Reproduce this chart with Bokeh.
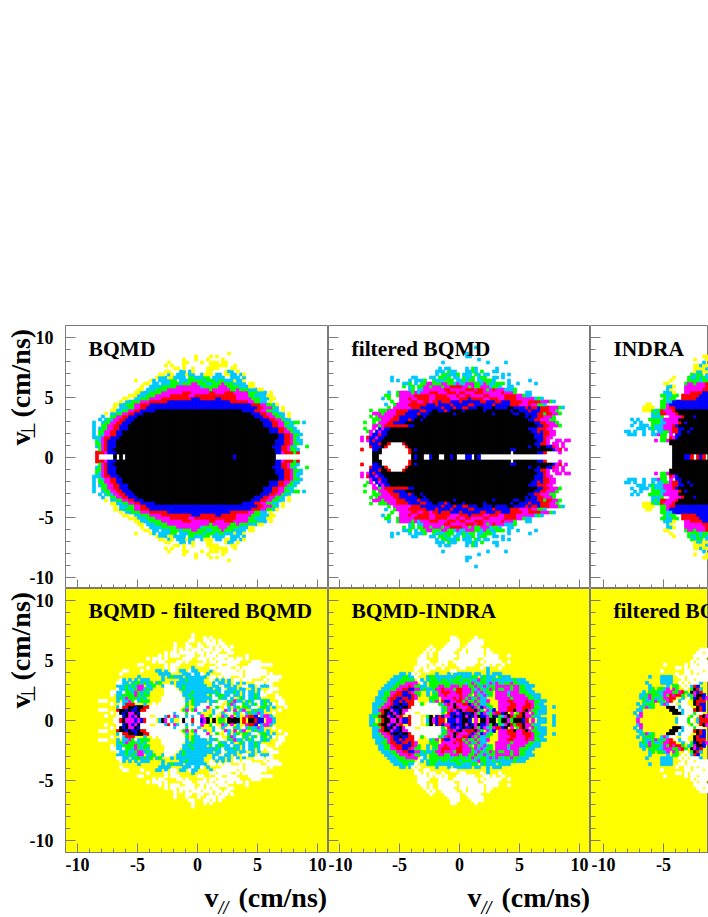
import re
from bokeh.plotting import figure
from bokeh.layouts import column, row
from bokeh.models import Label, ColumnDataSource, FixedTicker, Range1d
from bokeh.transform import factor_cmap
from bokeh.embed import file_html
from bokeh.resources import INLINE

LEVELS = ["y", "w", "c", "g", "m", "r", "b", "k"]
COLOURS = ["#ffff00", "#ffffff", "#00c8ff", "#00ff00", "#ff00ff", "#ff0000", "#0000ff", "#000000"]
MAJOR = [-10, -5, 0, 5, 10]
MINOR = [v for v in range(-10, 11) if v % 5]
TICK_LABELS = {-10: "-10", -5: "-5", 0: "0", 5: "5", 10: "10"}

# Each list: rows of 0.25 cm/ns bins going up from v_perp = 0 (the maps are mirrored about 0).
# Row text: "@n" = bin number along v_par (0 is -11 cm/ns), then level letters with repeat counts,
# "." = empty bin.
BQMD = [
"@10 r @16 k . k . 36k b 13k",
"@10 3r m 3b 53k 2b m 3r g r",
"@11 g m r 2b 54k 2b 2r m 2g c",
"@10 c g m r 3b 52k 3b 2r m g c @80 g",
"@10 2g m r 3b 53k 3b 2r m 2g c",
"@10 g c m r 3b 53k 3b 2r m g 2c",
"@9 c @10 2c m 2r 3b 53k 2b 2r m g c",
"@9 c @11 g c 2m 2r 2b 52k 2b 2r m 2g c",
"@9 c @11 2g 2m 2r 2b 49k 3b 2r 2m g 2c",
"@9 c @11 c 2g 2m 2r 3b 47k 3b 2r m 2g c",
"@9 c @12 2g 2m 2r 3b 45k 3b 2r 2m g 2c",
"@9 c @12 c 2g 2m 2r 3b 44k 3b 2r 2m 2g c g @77 g @79 c",
"@11 c . c @14 g c 2m 2r 3b 42k 3b 2r 2m g 2c",
"@12 c @15 2g 2m 2r 3b 39k 3b 2r 2m 2g c . y",
"@13 y @15 2c 2g 2m 2r 3b 36k 3b 2r 2m 2g 2c . y",
"@15 2y @17 2c 2g 2m 2r 5b 29k 4b 2r 2m 2g 2c . y",
"@16 y . 3c 2g 2m 2r 37b 2r 3m g c . y",
"@16 2y 2c 3g 2m 3r 34b 3r 2m 2g c y",
"@18 y . 2c 3g 3m 6r 21b 6r 2m 2g 2c . y",
"@19 2y @23 2c 3g 4m 10r 3b 5r 2b 5r 5m 3g 3c 2y",
"@21 3y 3c 3g 5m 6r 2m 14r 4m 2g 4c 2y",
"@23 2y 3c 4g 7m 3r 6m 2r 3m 3r 5m 3g 3c . y",
"@24 2y . 3c 4g 14m g 6m 2g m 3g 3c 2y",
"@25 y 2. 4c 5g 8m c 5g 3m 4g 3c 2y",
"@26 2y . 2c . 3c 3g c 3g 2m 3g 2c 3g m 3g 4c . 2y",
"@23 y @28 y c . 4c 2g . 3c 5g c 3g c 2g 3c y 2c y",
"@30 y 3c 2y 4c . 2g 3c 2g . 4c 2. 3c . c",
"@31 2y . c y . 3c y 2c 2. c 3y . 2c . 2y 2c . c y",
"@33 2y @38 2c . c y @47 2y 4. y 2c @57 y",
"@36 2y . y @42 y @47 4y 4. 2y",
"@33 y . y @39 y @48 6y @56 y",
"@34 y @39 2y @45 y @48 3y @52 2y",
"@39 y @43 y @47 y @52 y",
"@43 y @48 y @50 y",
"@54 y",
]
FILTERED = [
"@15 2k @28 k b 2k 2. b 2k 2. 2k b k 3. 2b . k b",
"@15 3k @27 r 33k . 8k 2b r @77 m",
"@11 r @15 2b k @27 r k b 31k 2b 12k 2b r @76 m 2. m",
"@14 r 3b k r @26 r 40k b 2k b 2k 2b r m @76 m . m",
"@14 3b r 2k r @25 r 43k 2b 2r m @75 2m . m",
"@11 m . m b r 2b 52k 2b r m @76 2m . 2m",
"@11 m @13 r 2b m 2b 50k 3b r 2m",
"@14 m 2b r 2b 49k 3b 2r 2m",
"@13 g m . b m 2b 48k 2b r b 2r 2m",
"@12 g @15 m . b m 2b 46k 3b 3r 2m",
"@15 2m g m 8r 2b 41k 2b 2r 3m g",
"@12 g @15 g . 3m 2r 4b 43k 2b 2r 3m g",
"@15 3g 3m 3r 3b r b 2k b 35k 2b 2r 3m 2g",
"@14 g . g 5m 2r 6b 2k b 33k b k 2b 2r 3m g",
"@15 3m g 4m 3r 4b r 3b 8k b 12k b 6k 2b 2k 4b 2r g 2r 2m g",
"@14 g @17 3g 3m 4r 4b 2r 2b 2k 2b r b 4k b 6k b 8k b 2k 3b r 3b 3r 2m g",
"@20 g . 6m 3r 7b r 3b r 2b 2r 3b 2k 3b k 4b 2k 4b r b 2r b 3r 3m g c",
"@19 c @22 g 4m 6r 3b r 4b r 5b 2r 6b r 5b 3r 3m r 2m 2g c",
"@21 g @24 4m 2r 2m 2r m 2r b 3r 3b r 6b 2r 3b 2r 3b 4r 2m 4r 3m g c",
"@18 c . g @24 3m r 2m 4r 2m 5r 3m 3r b 4r 2m 3r 2m 4r 6m c g c",
"@19 2g 2. g @24 5m 5r 2m 4r 3m r 2m 2r 4m 2r 5m 4r 2m g 2c",
"@20 c @23 g 4m g m c 3m 3r 3m 3r m 2r 3m 3r 6m r 3m g @66 2c",
"@27 c g . 2c 7m 2r 5m 3r m 2r m g m r 3m 3c g",
"@25 g . c g . 2g 2m g 3m g 2m 4r 2m g m 2g 3m c 2g c @60 2c",
"@25 2c g . c @31 2g 2m 3g 2m 2g c m 2c 3m 2g c m g 2c 3g . c @63 c @69 c",
"@21 c . c @27 c . 3c g 2. g 3c g 2g . 2c g c 2g . 2c 3g c @60 c @67 c",
"@21 c @28 2c @34 2c . 2g c g . 2c . g 2c g . c 2g @55 2c . c",
"@35 . c . 2g @40 3c g . 3c @49 g c . 2c @58 c . c",
"@36 3c . g 2c 3. c . g @47 c . c . g @55 2c",
"@37 c . 2c @46 c . g c @56 c",
"",
"@38 c @53 c @59 c",
"@50 c",
"@46 2c",
"@46 c",
"",
"@49 c",
]
INDRA = [
"@27 4k 2b r . r b r 2. b",
"@27 13k",
"@27 13k",
"@27 13k",
"@26 14k",
"@21 m . 2g m @26 14k",
"@23 2g . r m b 11k",
"@12 3c @17 c @20 2c m 2g . m . 2b 10k",
"@11 2c . c @17 c @20 c . 2c 2g m 2r b 2k b 8k",
"@15 3c . c g 3c 3m 2r 2b 2k b 8k",
"@13 c @16 3c @20 g 3c 3m r b 11k",
"@14 c @16 c @20 3g 2c 4m r k b 9k",
"@13 c . c @19 4g c 5m 12k",
"@20 3c g 2. 4m r 3k b 8k",
"@20 c g c @23 2r 3m r 12k",
"@17 3y g c g @23 r 3m r k 11k",
"@17 4y . @23 2g m 2r 12b",
"@18 2y @23 2g m 2b 12b",
"@23 2g 2c 3b 9b",
"@24 g c 2g @30 5r 5b",
"@23 2g 2c 2g @30 6r 4b",
"@24 c 2c y @31 2m 4r 2b",
"@25 c y @31 6m 3r",
"@25 2c y @31 7m 2r",
"@24 2y @31 g 2m g 3m r",
"@26 y @32 4g c 2g m",
"@27 y @32 g 2c g c g 3c",
"@33 g c 2g . c 2c",
"@34 y 2c 3y",
"@34 4y c 2y",
"@34 2y c 3y",
"@37 c",
"@34 y @38 2y",
"@37 2y",
]
DIFF_FILTERED = [
"@16 2w r k 3m b m b r 3w @31 c k m w c @38 w k 2w r 2w b m k @49 k . 2g @54 2k @56 2k @59 r @61 2k r @64 2b . @67 2m c",
"@13 w @17 2w b k m b m k 3w @30 3w c r w m c 2w c w c 2w m @48 g w . @52 m c . @55 m . c @60 m 2r b @65 c 2m c",
"@15 w . w k b k 2m k b 5w @30 6w c 3w g 3w c @49 c w . c @54 2w g c @59 w c g 2c m c @69 w",
"@11 3w @17 r 2k b k 2b k 2r 3w @29 9w . g m . g m 2w c @48 . c 2w @53 m c @56 m @58 c m @62 c g 2c @67 c @71 w",
"@17 c w 2r 2k b 2k 2r 2w @29 10w . c 2. c 3w m @49 w g @53 w c . c g @59 2g c 2w @65 2g c @69 c @73 w",
"@15 w 2. w c 3r 3. c 2. w @31 9w g . g 2c w 2w g m @48 c 3w @54 g m c 2w g c . c g w c g @68 c w . 2w",
"@11 3w . @17 c . 2c m g w c 3g @32 8w c . g 4c . g m @48 2c g 2w . c g m 2c . c g c 2w c g c @71 2w",
"@17 c g c m 3g c g c @32 7w . 2c g 6c g @48 c 2w g 2c w c 2. g c w 2c g c @70 2w",
"@15 w . 2c g 3g m g c 2g @33 6w 2c g 5c . g @49 w c 2g 2c w 2c . c w 2c g @64 c 2w @70 w",
"@15 2w 2c w 2g c m g c g c @33 5w . 3c g 7c @49 c g c w 3c g c . c w 2c @64 c w . 2w",
"@17 w 2c g 2c g 2m c g c @33 4w . c g 8c g @48 c . 2c w . 3c . 2c @62 c . c . @68 3w",
"@17 3c g c g c 2m . 2c g @32 c 3w . 2c g 7c . @49 2c . w 2c . c 2. 2w 2c . w @65 3c w",
"@17 2w 2c . c 2g c g c g . c g @35 c . 2c 7c @49 c w 2c . c . w c . c @63 3w . 2w",
"@18 w c . c . c @25 3c @32 c @38 2c g 5c . @48 w . c . c . c . 2w . 3w @66 w . 3w",
"@24 c @32 c . c g 3c . @38 c . 7c @48 2w . w . 2w 3. w . 5w 2. 5w",
"@18 w @31 c 3c @39 3c w 2c w . c @50 2. 7w . 7w . w",
"@19 2w @25 w @30 2c . c . 2w @38 2c . w 2c . 3. c . 7w . w . 7w",
"@27 w @33 w . 2w @42 c @48 2w . 4w 2. w . 6w",
"@24 2w @33 w . 3w @44 2w @50 2w 2. 3w 4. 8w",
"@29 w . 2w @37 2w . w @46 w . 2w . 2w 5w @62 3w",
"@27 w . 3w @33 w @39 3w 2. 3w . w @50 3w . 2w . 2w . w",
"@31 w . w . 3w @40 3w 2. w . 3w . 3w @60 w",
"@33 w . 2w @38 5w @44 2w . w . 2w @54 2w",
"@36 w . w . w . 3w . 3w . 2w . 2w",
"@36 w @40 2w @44 2w @48 w . w . 2w . w",
"@36 w @40 w @44 w @47 3w . 2w",
"@41 2w @46 2w . w . w",
"@42 w @46 w @48 w",
"@42 w",
]
DIFF_INDRA = [
"@14 2c y g r 2k 2m k m 2b r @28 3w . w c k m b @37 2r . 3b m b 2k b . m . 2k m r g @54 2k . g @58 2k m g @62 3k b r . m . g @70 3c @75 c",
"@14 c 2g r 2k m b k m r @27 r 3w . . g k . b @37 r b 2m b k 2b k @46 m k b m k 2b m @54 g k b g c m @60 k r g 2r k 2m g 2c @75 c",
"@15 2c g r k b k m b k m 3w @31 7w g . r 2b m b k 2b k m g b m c g m @56 2r b k . m . g r k m @68 m g 3c",
"@15 2c m r 2k m 2b k 2m 4w @31 7w c g m r m b k m 3r k m g . m c b @57 3m 2r k 2m r k m 2g 3c",
"@15 2c g 2m r b 2k b 2k r 4w @32 6w 2g 2m k r 3m r b m g b m c g @57 3m 3r 2m 3r m 2g 2c @75 c",
"@15 3c g 2m r 2b k 2b 2r 2w g @33 4w g c m r m k 2m 2r b m g m 2c g @57 4m 2r 3m 2r m g 2c",
"@16 3c g m r 2b r b 3r w @34 c g m . r 2b 2m 2r g m 2g m g 2c m @57 3m 2r 4m r 2m 2g 2c",
"@16 2c 2g m 2r 2b 2r b r m @34 g 2g . m 3m r m r m g m c g m 2c @56 5m g 5m 2g 2c",
"@17 2c 2g m 3r 3b r m g @33 c . 2g 2m r 4m r 2m g . m g c m c g @56 4m g 5m 2g 3c",
"@17 2c 2g 2m 2r 2b r m 2g @33 c . c g m 3r 2m 2r 3m g m c m c 2g @56 4m c 3m 3g 2c",
"@18 3c 2g 2m 2r 2b 2m g @31 c g 2c g 2m r 3m g 2r 3m g c m g c g m g m @57 2g 2m g 2m 2g 2c",
"@19 3c 2g 3m r m 2g @31 2c . 3g 2m 2g 3m g 2m 2g m g c m c 2g 3m 2g @59 2m g 2m 2g 3c",
"@20 3c 3g 4m . w @32 c . g 4g 2g c 4g c g m g c 2g c m c m 2g @58 c 2g m 2g 3c",
"@21 3c 3g 2g . w @31 c . c 3g c 2g c 3g c 3g 2c m 2g 2c g c 2c 3c g 3c",
"@22 3c 2g 2c w @33 c 2g 7c 2g 3c 2g . c g c 2c . g 3c",
"@24 2c . c w @30 w @36 c @40 c @42 6c . 2c @53 c @55 3c",
"@29 w 2. w @33 w @41 2w @53 c",
"@29 2w . w . 2w 2. w @44 2w @51 w @53 c @57 w",
"@30 3w . w @36 2w . w @43 6w @52 2w . w @58 w",
"@30 4w @37 3w @42 8w @51 w . 5w @60 w",
"@30 3w @37 5w @44 6w @52 5w",
"@31 2w . w @37 6w @44 8w @53 4w @60 w",
"@32 w . w @37 5w @44 2w . 5w @53 2w",
"@33 w . w @38 5w @45 w . 5w . w",
"@34 w @39 5w @46 5w",
"@40 4w @47 5w",
"@41 3w @48 4w",
"@41 2w @49 w",
]
FILTERED_INDRA = [
"@15 m @28 c 3w g w . c r 2r m 2w b",
"@15 c m @29 3w . g w . r k m b",
"@14 c . m @27 3k c 3w g 2w . . r k m b",
"@15 2c @26 3k w c 3w g 2w @33 . r k r b",
"@16 c g m c g @25 3k w c 3w . . k r b",
"@15 c @17 c 3g @23 c m c 2w . . 2w @34 k r 2b",
"@17 g 2c g m g c g m r . w c 2w @34 k 3r",
"@16 c g c m g 2c g 2m 2r 2. c . w @33 g b k r b m",
"@16 2c g m 3g c m g r m 2r g @32 c g m 2k b",
"@17 c . 3g 2c 3m 2g m r g . 2w @33 k m b r",
"@19 c g . 2g c m . m g @31 w . g k r c",
"@19 c @25 c . 2g @30 w . w c r b",
"@18 c @23 4c @29 w . w . 3w c",
"@23 4c @30 w . 2w . 2w 3w",
"@19 c @23 4c @29 2w . w 2w 4w",
"@28 w @31 2w . w . 6w",
"@23 w @30 . 2w . 3w . 5w",
"@28 2w . w @33 2w 4w . w",
"@24 w @31 w . 2w . w 3w",
"@33 w . w 5w",
"@33 . w . 2w . 4w",
"@34 2w 3w . w",
"@35 2w . 4w",
"@36 5w",
]

TOKEN = re.compile(r"@(\d+)|(\d*)([ywcgmrbk.])")


def cells(rows):
    left, bottom, level = [], [], []
    for r, line in enumerate(rows):
        i = 0
        for at, n, ch in TOKEN.findall(line):
            if at:
                i = int(at)
                continue
            for _ in range(int(n) if n else 1):
                if ch != ".":
                    for yb in (r * 0.25, -(r + 1) * 0.25):
                        left.append(-11 + i * 0.25)
                        bottom.append(yb)
                        level.append(ch)
                i += 1
    return ColumnDataSource(dict(
        left=left, right=[v + 0.25 for v in left],
        bottom=bottom, top=[v + 0.25 for v in bottom], level=level))


SERIF = "Liberation Serif"
GREY = "#7a7a7a"


def panel(rows, title, width, height, xr, yr, tx, ty, bg, left_labels, bottom_labels, ml, mt, mb):
    p = figure(width=width, height=height, x_range=Range1d(*xr), y_range=Range1d(*yr),
               output_backend="svg", toolbar_location=None, tools="",
               min_border_left=ml, min_border_right=0, min_border_top=mt, min_border_bottom=mb,
               background_fill_color=bg, border_fill_color=None,
               outline_line_color=GREY, outline_line_width=1)
    p.grid.visible = False
    fill = factor_cmap("level", COLOURS, LEVELS)
    p.quad(left="left", right="right", bottom="bottom", top="top", source=cells(rows),
           fill_color=fill, line_color=fill, line_width=0.7)
    for ax, labels, mj, mn, edge in ((p.xaxis[0], bottom_labels, 9, 4, yr[0]),
                                     (p.yaxis[0], left_labels, 10, 5, xr[0])):
        ax.ticker = FixedTicker(ticks=MAJOR, minor_ticks=MINOR)
        ax.axis_line_color = GREY
        ax.major_tick_line_color = GREY
        ax.minor_tick_line_color = GREY
        ax.major_tick_in, ax.major_tick_out = mj, 0
        ax.minor_tick_in, ax.minor_tick_out = mn, 0
        if labels:
            ax.major_label_overrides = TICK_LABELS
            ax.major_label_text_font = SERIF
            ax.major_label_text_font_style = "bold"
            ax.major_label_text_font_size = "18px"
            ax.major_label_text_color = "black"
        else:
            ax.fixed_location = edge
            ax.major_label_overrides = {v: "" for v in MAJOR}
    if left_labels:
        p.yaxis[0].major_label_standoff = 12
    if bottom_labels:
        p.xaxis[0].major_label_standoff = 5
    p.add_layout(Label(x=tx, y=ty, text=title, text_font=SERIF, text_font_style="bold",
                       text_font_size="21.5px", text_color="black", text_baseline="alphabetic"))
    return p


def text(p, s, x, y, size, angle=0.0, font=SERIF, style="bold"):
    p.add_layout(Label(x=x, y=y, x_units="screen", y_units="screen", text=s, angle=angle,
                       text_font=font, text_font_style=style, text_font_size=size,
                       text_color="black", text_baseline="alphabetic"))


HALF = 263 / 24
Y1 = (-HALF, HALF)
Y2 = (-HALF, HALF)
X1 = (-11.0, 131 / 12)
X2 = (-131 / 12, 131 / 12)
X3 = (-133 / 12, -133 / 12 + 118 / 12)
H1 = 588
H2 = 289

a = panel(BQMD, "BQMD", 328, H1, X1, Y1, -9.08, 9.0, "white", True, False, 65, 325, 0)
b = panel(FILTERED, "filtered BQMD", 262, H1, X2, Y1, -9.0, 9.0, "white", False, False, 0, 325, 0)
c = panel(INDRA, "INDRA", 118, H1, X3, Y1, -9.17, 9.0, "white", False, False, 0, 325, 0)
d = panel(DIFF_FILTERED, "BQMD - filtered BQMD", 328, H2, X1, Y2, -9.08, 9.08, "#ffff00", True, True, 65, 0, 25)
e = panel(DIFF_INDRA, "BQMD-INDRA", 262, H2, X2, Y2, -9.0, 9.08, "#ffff00", False, True, 0, 0, 25)
f = panel(FILTERED_INDRA, "filtered BQMD-INDRA", 118, H2, X3, Y2, -9.17, 9.08, "#ffff00", False, True, 0, 0, 25)

OVER_W, OVER_H = 708, 916
over = figure(width=OVER_W, height=OVER_H, x_range=Range1d(0, OVER_W), y_range=Range1d(0, OVER_H),
              output_backend="svg", toolbar_location=None, tools="",
              min_border_left=0, min_border_right=0, min_border_top=0, min_border_bottom=0,
              background_fill_color=None, border_fill_color=None, outline_line_color=None)
over.grid.visible = False
over.axis.visible = False

RIGHT_ANGLE = 1.5707963
for base in (445, 708):
    text(over, "v", 20, OVER_H - base, "28px", RIGHT_ANGLE)
    text(over, "\u22a5", 27, OVER_H - base + 6, "20px", RIGHT_ANGLE, "DejaVu Sans", "normal")
    text(over, "(cm/ns)", 20, OVER_H - base + 28, "28px", RIGHT_ANGLE)
for x0 in (204, 467):
    text(over, "v", x0, OVER_H - 897, "28px")
    text(over, "//", x0 + 14, OVER_H - 907, "18px", 0.0, SERIF, "bold italic")
    text(over, "(cm/ns)", x0 + 34, OVER_H - 897, "28px")

page = column(row(a, b, c), row(d, e, f))
page.margin = (0, 0, 0, 0)
page.styles = {"position": "absolute", "left": "0px", "top": "0px"}
over.margin = (0, 0, 0, 0)
over.styles = {"position": "absolute", "left": "0px", "top": "0px", "pointer-events": "none"}
open("out.html", "w").write(file_html([page, over], INLINE))
